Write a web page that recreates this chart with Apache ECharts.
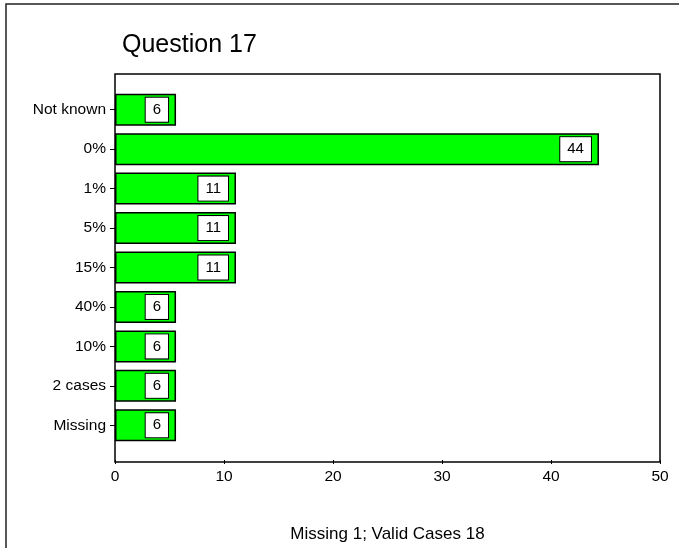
<!DOCTYPE html>
<html>
<head>
<meta charset="utf-8">
<script src="https://cdn.jsdelivr.net/npm/echarts@6/dist/echarts.min.js"></script>
<style>
    html, body { margin: 0; padding: 0; background: #fff; }
    #chart { width: 679px; height: 548px; }
</style>
</head>
<body>
<div id="chart"></div>
<script>
// categories from top to bottom
const categories = ['Not known', '0%', '1%', '5%', '15%', '40%', '10%', '2 cases', 'Missing'];
// percent of valid cases
const percents = [5.6, 44.4, 11.1, 11.1, 11.1, 5.6, 5.6, 5.6, 5.6];
const xTicks = [0, 10, 20, 30, 40, 50];
const titleText = 'Question 17';
const caption = 'Missing 1; Valid Cases 18';

const FONT = '"Liberation Sans", Arial, sans-serif';

const chart = echarts.init(document.getElementById('chart'));

chart.setOption({
    animation: false,
    textStyle: { fontFamily: FONT, color: '#000' },
    title: {
        text: titleText,
        left: 117,
        top: 28,
        textStyle: { fontFamily: FONT, fontSize: 25, fontWeight: 'normal', color: '#000' },
    },
    graphic: [{
        type: 'rect',
        shape: { x: 6, y: 4, width: 700, height: 600 },
        style: { fill: 'none', stroke: '#222', lineWidth: 1.5 },
        silent: true,
    }],
    grid: [
        // bars
        { left: 115, right: 19, top: 90, bottom: 101 },
        // plot frame
        { left: 115, right: 19, top: 74, bottom: 86, show: true, borderColor: '#000', borderWidth: 1.5, backgroundColor: 'transparent' },
    ],
    xAxis: [{
        type: 'value',
        gridIndex: 0,
        min: xTicks[0],
        max: xTicks[xTicks.length - 1],
        interval: 10,
        offset: 15,
        splitLine: { show: false },
        axisLine: { show: false },
        axisTick: { show: true, inside: false, length: 4, lineStyle: { color: '#000' } },
        axisLabel: { fontSize: 15.5, color: '#000', margin: 9, fontFamily: FONT },
        name: caption,
        nameLocation: 'middle',
        nameGap: 66,
        nameTextStyle: { fontSize: 17, color: '#000', fontFamily: FONT },
    }, {
        type: 'value', gridIndex: 1, show: false, min: 0, max: 50,
    }],
    yAxis: [{
        type: 'category',
        gridIndex: 0,
        data: categories,
        inverse: true,
        axisLine: { show: false },
        axisTick: { show: true, alignWithLabel: true, length: 5, lineStyle: { color: '#000' } },
        axisLabel: { fontSize: 15.5, color: '#000', margin: 9, fontFamily: FONT },
    }, {
        type: 'value', gridIndex: 1, show: false,
    }],
    series: [{
        type: 'bar',
        xAxisIndex: 0,
        yAxisIndex: 0,
        data: percents,
        barWidth: 32,
        itemStyle: { color: '#00ff00', borderColor: '#000', borderWidth: 1.5 },
        label: {
            show: true,
            position: 'insideRight',
            distance: 8,
            formatter: (p) => Math.round(p.value),
            color: '#000',
            fontSize: 15,
            fontFamily: FONT,
            backgroundColor: '#fff',
            borderColor: '#000',
            borderWidth: 1,
            padding: [5, 7, 4, 7],
        },
    }],
});
</script>
</body>
</html>
